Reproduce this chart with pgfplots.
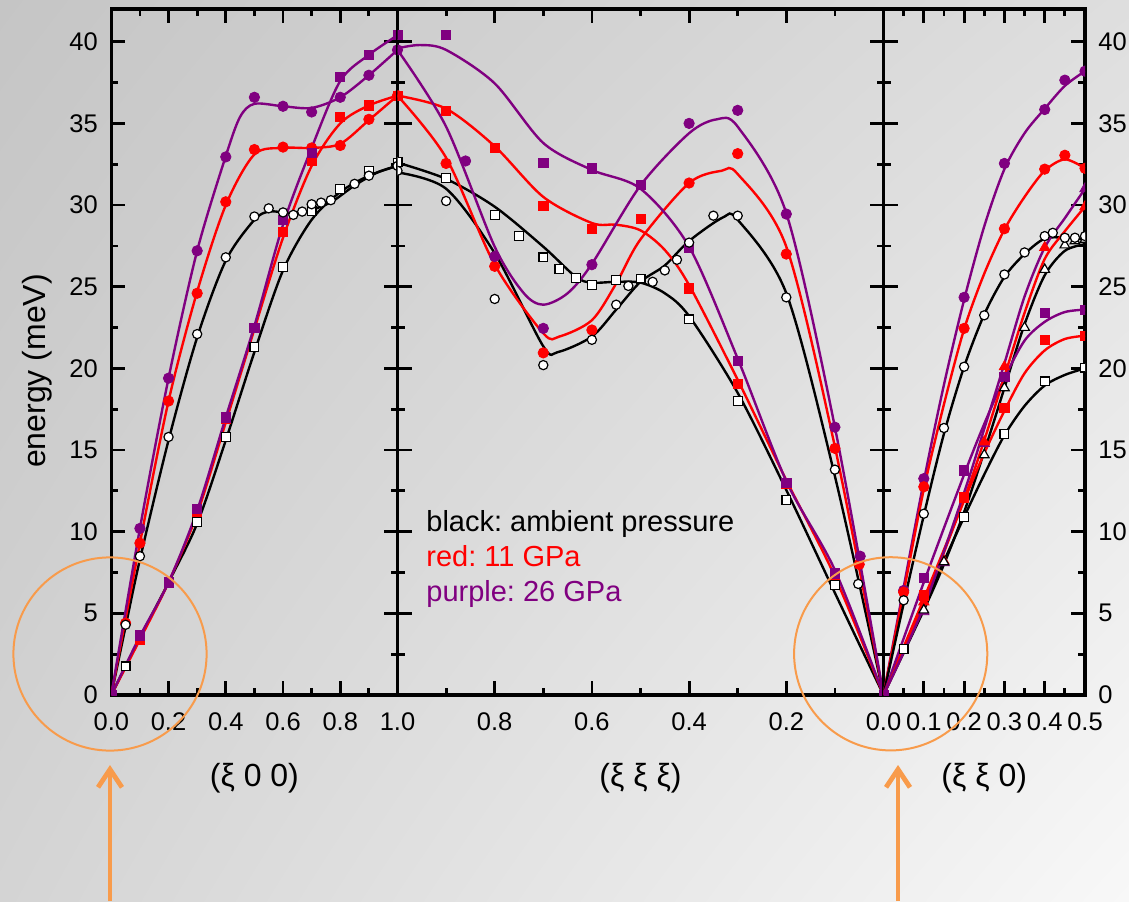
\documentclass[border=0pt]{standalone}
\usepackage{fontspec}
\setmainfont{Liberation Sans}
\usepackage{pgfplots}
\pgfplotsset{compat=1.18}
\usetikzlibrary{arrows.meta,shadings}
\definecolor{pur}{RGB}{128,0,128}
\definecolor{org}{RGB}{248,155,75}
\definecolor{bgUL}{RGB}{197,197,197}
\definecolor{bgUR}{RGB}{222,222,222}
\definecolor{bgLL}{RGB}{212,212,212}
\definecolor{bgLR}{RGB}{248,248,248}
\frenchspacing
\pgfplotsset{
 panel/.style={scale only axis, height=342.95pt, anchor=south west,
   ymin=0, ymax=42, ytick={0,5,...,40}, minor ytick={2.5,7.5,...,37.5},
   tick align=inside, major tick length=7pt, minor tick length=3.5pt,
   axis line style={line width=1.6pt},
   every tick/.style={black, line width=1.4pt},
   xtick pos=both, ytick pos=both,
   clip marker paths=true,
   /pgf/number format/assume math mode=true,
   tick label style={font=\fontsize{12.75}{14}\selectfont},
   xticklabel style={yshift=-5.5pt},
   label style={font=\fontsize{16}{18}\selectfont},
   xlabel style={at={(axis description cs:0.5,0)}, anchor=center, yshift=-41.5pt},
 },
 mbc/.style={only marks, mark=*, mark size=2.3pt, mark options={draw=black, fill=white, line width=0.6pt}},
 mbs/.style={only marks, mark=square*, mark size=2.2pt, mark options={draw=black, fill=white, line width=0.6pt}},
 mbt/.style={only marks, mark=triangle*, mark size=2.8pt, mark options={draw=black, fill=white, line width=0.6pt}},
 mrc/.style={only marks, mark=*, mark size=2.6pt, color=red},
 mrs/.style={only marks, mark=square*, mark size=2.3pt, color=red},
 mrt/.style={only marks, mark=triangle*, mark size=3pt, color=red},
 mpc/.style={only marks, mark=*, mark size=2.6pt, color=pur},
 mps/.style={only marks, mark=square*, mark size=2.3pt, color=pur},
 mpt/.style={only marks, mark=triangle*, mark size=3pt, color=pur},
 lb/.style={smooth, no marks, line width=1.2pt, black},
 lr/.style={smooth, no marks, line width=1.2pt, red},
 lp/.style={smooth, no marks, line width=1.2pt, pur},
}
\begin{document}
\begin{tikzpicture}
\useasboundingbox (0,0) rectangle (564.5pt,450.5pt);
\shade[upper left=bgUL, upper right=bgUR, lower left=bgLL, lower right=bgLR] (0,0) rectangle (564.5pt,450.5pt);

% ---------------- Panel 1: (xi 0 0)
\begin{axis}[panel, at={(55.65pt,103pt)}, width=143.1pt,
  xmin=0, xmax=1,
  xtick={0,0.2,0.4,0.6,0.8,1}, xticklabels={0.0,0.2,0.4,0.6,0.8,1.0},
  minor xtick={0.1,0.3,0.5,0.7,0.9},
  yticklabel style={xshift=-3.2pt},
  xlabel={(ξ 0 0)}]
\addplot[lb] coordinates {(0,0) (0.05,4.2) (0.1,8.3) (0.2,15.6) (0.3,21.9) (0.4,26.6) (0.5,29.1) (0.55,29.6) (0.6,29.55) (0.65,29.5) (0.7,29.7) (0.77,30.2) (0.85,31.2) (0.93,32.0) (1.0,32.4)};
\addplot[lb] coordinates {(0,0) (0.1,3.5) (0.2,6.9) (0.3,10.5) (0.4,15.6) (0.5,21.0) (0.6,26.0) (0.7,29.1) (0.8,30.8) (0.9,31.8) (1.0,32.4)};
\addplot[lr] coordinates {(0,0) (0.1,9.3) (0.2,18.0) (0.3,24.7) (0.4,30.0) (0.5,33.1) (0.6,33.5) (0.7,33.5) (0.8,33.75) (0.9,35.2) (1.0,36.7)};
\addplot[lr] coordinates {(0,0) (0.1,3.4) (0.2,6.9) (0.3,11.1) (0.4,16.7) (0.5,22.4) (0.6,28.0) (0.7,32.4) (0.8,35.0) (0.9,36.1) (1.0,36.7)};
\addplot[lp] coordinates {(0,0) (0.1,10.2) (0.2,19.4) (0.3,27.2) (0.4,33.0) (0.45,35.4) (0.5,36.2) (0.6,36.05) (0.7,35.95) (0.8,36.6) (0.9,37.95) (1.0,39.5)};
\addplot[lp] coordinates {(0,0) (0.1,3.6) (0.2,6.9) (0.3,11.3) (0.4,17.0) (0.5,22.6) (0.6,28.8) (0.7,33.5) (0.8,37.6) (0.9,39.2) (1.0,40.4)};
\addplot[mrc] coordinates {(0.05,4.4) (0.1,9.3) (0.2,18.0) (0.3,24.6) (0.4,30.2) (0.5,33.4) (0.6,33.55) (0.7,33.5) (0.8,33.65) (0.9,35.25) (1.0,36.7)};
\addplot[mrs] coordinates {(0.1,3.4) (0.2,6.85) (0.3,11.2) (0.4,16.9) (0.5,22.5) (0.6,28.35) (0.7,32.7) (0.8,35.4) (0.9,36.1) (1.0,36.7)};
\addplot[mpc] coordinates {(0.1,10.2) (0.2,19.4) (0.3,27.2) (0.4,32.95) (0.5,36.6) (0.6,36.05) (0.7,35.7) (0.8,36.6) (0.9,37.95) (1.0,39.5)};
\addplot[mps] coordinates {(0,0) (0.1,3.65) (0.2,6.9) (0.3,11.4) (0.4,17.0) (0.5,22.5) (0.6,29.1) (0.7,33.2) (0.8,37.85) (0.9,39.2) (1.0,40.4)};
\addplot[mbs] coordinates {(0.05,1.75) (0.3,10.6) (0.4,15.8) (0.5,21.3) (0.6,26.2) (0.7,29.65) (0.8,31.0) (0.9,32.1) (1.0,32.6)};
\addplot[mbc] coordinates {(0.05,4.3) (0.1,8.5) (0.2,15.8) (0.3,22.1) (0.4,26.8) (0.5,29.3) (0.55,29.8) (0.6,29.55) (0.636,29.4) (0.667,29.6) (0.7,30.05) (0.733,30.15) (0.767,30.3) (0.85,31.3) (0.9,31.8) (1.0,32.4)};
\end{axis}

% ---------------- Panel 2: (xi xi xi)
\begin{axis}[panel, at={(198.75pt,103pt)}, width=243pt,
  xmin=0, xmax=1, x dir=reverse,
  xtick={0.2,0.4,0.6,0.8}, xticklabels={0.2,0.4,0.6,0.8},
  minor xtick={0.1,0.3,0.5,0.7,0.9},
  yticklabels={},
  xlabel={(ξ ξ ξ)}]
\addplot[lb] coordinates {(1.0,32.6) (0.9,31.6) (0.8,29.9) (0.7,27.45) (0.633,25.6) (0.6,25.25) (0.55,25.3) (0.5,25.25) (0.45,24.6) (0.4,23.2) (0.3,18.5) (0.2,12.55) (0.1,6.25) (0,0)};
\addplot[lb] coordinates {(1.0,32.0) (0.9,31.0) (0.8,27.05) (0.7,21.35) (0.67,21.0) (0.6,21.95) (0.55,23.6) (0.5,25.3) (0.45,26.3) (0.4,27.8) (0.33,29.25) (0.3,29.1) (0.2,24.6) (0.1,13.4) (0,0)};
\addplot[lr] coordinates {(1.0,36.7) (0.9,35.9) (0.8,33.6) (0.7,30.5) (0.6,28.9) (0.55,28.8) (0.5,28.45) (0.45,27.25) (0.4,25.1) (0.3,19.3) (0.2,13.15) (0.1,7.25) (0,0)};
\addplot[lr] coordinates {(1.0,36.7) (0.9,32.9) (0.8,26.35) (0.7,22.15) (0.667,21.95) (0.6,22.95) (0.55,25.2) (0.5,27.9) (0.4,31.35) (0.333,32.1) (0.3,31.9) (0.2,27.45) (0.1,15.2) (0,0)};
\addplot[lp] coordinates {(1.0,39.6) (0.954,39.8) (0.9,39.5) (0.8,37.45) (0.7,33.8) (0.6,32.15) (0.5,31.0) (0.4,27.45) (0.3,20.6) (0.2,13.1) (0.1,7.65) (0,0)};
\addplot[lp] coordinates {(1.0,39.5) (0.9,34.8) (0.8,27.45) (0.74,24.6) (0.7,23.9) (0.65,24.6) (0.6,26.4) (0.5,31.2) (0.4,34.4) (0.343,35.25) (0.3,34.8) (0.2,29.5) (0.1,16.4) (0,0)};
\addplot[mrc] coordinates {(1.0,36.7) (0.9,32.55) (0.8,26.25) (0.7,20.95) (0.6,22.35) (0.4,31.35) (0.3,33.15) (0.2,27.0) (0.1,15.1) (0.05,8.0)};
\addplot[mrs] coordinates {(1.0,36.7) (0.9,35.75) (0.8,33.5) (0.7,29.95) (0.6,28.55) (0.5,29.15) (0.4,24.9) (0.3,19.05) (0.2,12.95) (0.1,7.0)};
\addplot[mpc] coordinates {(1.0,39.5) (0.86,32.7) (0.8,26.85) (0.7,22.45) (0.6,26.35) (0.4,35.0) (0.3,35.8) (0.2,29.45) (0.1,16.4) (0.048,8.5)};
\addplot[mps] coordinates {(1.0,40.4) (0.9,40.4) (0.7,32.6) (0.6,32.25) (0.5,31.25) (0.4,27.4) (0.3,20.45) (0.2,13.0) (0.1,7.45) (0,0)};
\addplot[mbs] coordinates {(1.0,32.65) (0.9,31.65) (0.8,29.4) (0.75,28.1) (0.7,26.8) (0.667,26.1) (0.633,25.55) (0.6,25.1) (0.55,25.4) (0.5,25.5) (0.4,23.0) (0.3,18.0) (0.2,11.95) (0.1,6.75)};
\addplot[mbc] coordinates {(1.0,32.1) (0.9,30.25) (0.8,24.25) (0.7,20.2) (0.6,21.75) (0.55,23.9) (0.525,25.05) (0.475,25.3) (0.45,26.0) (0.425,26.65) (0.4,27.7) (0.35,29.35) (0.3,29.35) (0.2,24.35) (0.1,13.8) (0.052,6.8)};
\end{axis}

% ---------------- Panel 3: (xi xi 0)
\begin{axis}[panel, at={(441.75pt,103pt)}, width=100.75pt,
  xmin=0, xmax=0.5,
  xtick={0,0.1,0.2,0.3,0.4,0.5}, xticklabels={0.0,0.1,0.2,0.3,0.4,0.5},
  minor xtick={0.05,0.15,0.25,0.35,0.45},
  yticklabel pos=right, ytick pos=both,
  yticklabel style={xshift=3.2pt},
  xlabel={(ξ ξ 0)}]
\addplot[lp] coordinates {(0,0) (0.05,6.6) (0.1,13.1) (0.15,19.0) (0.2,24.2) (0.25,28.7) (0.3,32.2) (0.35,34.4) (0.4,35.9) (0.45,37.3) (0.5,38.2)};
\addplot[lr] coordinates {(0,0) (0.05,6.3) (0.1,12.6) (0.15,17.8) (0.2,22.4) (0.25,25.8) (0.3,28.5) (0.35,30.5) (0.4,32.1) (0.45,32.8) (0.5,32.25)};
\addplot[lb] coordinates {(0,0) (0.05,5.6) (0.1,11.0) (0.15,16.0) (0.2,20.1) (0.25,23.3) (0.3,25.6) (0.35,27.0) (0.4,27.95) (0.45,28.0) (0.5,27.9)};
\addplot[lb] coordinates {(0,0) (0.1,5.2) (0.15,8.0) (0.2,11.2) (0.25,14.9) (0.3,18.8) (0.35,22.7) (0.4,25.7) (0.45,27.2) (0.5,27.6)};
\addplot[lb] coordinates {(0,0) (0.05,2.8) (0.1,5.5) (0.15,8.2) (0.2,10.9) (0.25,13.5) (0.3,15.9) (0.35,17.7) (0.4,18.95) (0.45,19.6) (0.5,20.0)};
\addplot[lr] coordinates {(0,0) (0.1,5.9) (0.2,11.9) (0.25,14.8) (0.3,17.4) (0.35,19.7) (0.4,21.1) (0.45,21.8) (0.5,22.0)};
\addplot[lp] coordinates {(0,0) (0.1,6.9) (0.2,13.5) (0.25,16.6) (0.3,19.4) (0.35,21.7) (0.4,22.85) (0.45,23.45) (0.5,23.6)};
\addplot[lr] coordinates {(0,0) (0.1,5.6) (0.2,12.0) (0.25,15.6) (0.3,19.5) (0.35,23.4) (0.4,26.7) (0.45,28.4) (0.5,29.9)};
\addplot[lp] coordinates {(0,0) (0.1,5.4) (0.2,12.4) (0.25,16.3) (0.3,20.3) (0.35,24.4) (0.4,27.4) (0.45,29.2) (0.5,31.0)};
\addplot[mpc] coordinates {(0.05,6.4) (0.1,13.25) (0.2,24.35) (0.3,32.55) (0.4,35.85) (0.45,37.65) (0.5,38.2)};
\addplot[mrc] coordinates {(0.05,6.3) (0.1,12.75) (0.2,22.45) (0.3,28.55) (0.4,32.2) (0.45,33.05) (0.5,32.25)};
\addplot[mps] coordinates {(0,0) (0.1,7.15) (0.2,13.75) (0.3,19.5) (0.4,23.4) (0.5,23.6)};
\addplot[mrs] coordinates {(0.1,6.1) (0.2,12.1) (0.3,17.6) (0.4,21.75) (0.5,22.0)};
\addplot[mpt] coordinates {(0.1,5.1) (0.15,8.1) (0.25,15.4) (0.5,31.0)};
\addplot[mrt] coordinates {(0.1,5.7) (0.15,8.2) (0.25,15.5) (0.3,20.1) (0.4,27.4) (0.5,29.9)};
\addplot[mbs] coordinates {(0.05,2.8) (0.2,10.9) (0.3,16.0) (0.4,19.2) (0.5,20.05)};
\addplot[mbt] coordinates {(0.1,5.2) (0.15,8.15) (0.25,14.7) (0.3,18.8) (0.35,22.5) (0.4,26.05) (0.45,27.55) (0.475,27.8) (0.5,27.9)};
\addplot[mbc] coordinates {(0.05,5.8) (0.1,11.1) (0.15,16.35) (0.2,20.1) (0.25,23.25) (0.3,25.75) (0.35,27.1) (0.4,28.1) (0.42,28.3) (0.45,28.0) (0.475,28.0) (0.5,28.1)};
\end{axis}

% labels and annotations
\node[rotate=90, inner sep=0pt, font=\fontsize{16}{18}\selectfont] at (18.5pt,265pt) {energy (meV)};
\node[anchor=base west, inner sep=0pt, font=\fontsize{14.5}{16}\selectfont, black] at (213pt,184.75pt) {black: ambient pressure};
\node[anchor=base west, inner sep=0pt, font=\fontsize{14.5}{16}\selectfont, red] at (213pt,167.25pt) {red: 11 GPa};
\node[anchor=base west, inner sep=0pt, font=\fontsize{14.5}{16}\selectfont, pur] at (213pt,149.75pt) {purple: 26 GPa};
\draw[org, line width=1pt] (55pt,123.5pt) circle [radius=48.3pt];
\draw[org, line width=1pt] (445.35pt,123.6pt) circle [radius=48.3pt];
\draw[org, line width=2.4pt, -{Straight Barb[length=9pt,width=12pt]}] (55pt,0pt) -- (55pt,68pt);
\draw[org, line width=2.4pt, -{Straight Barb[length=9pt,width=12pt]}] (449pt,0pt) -- (449pt,68pt);
\end{tikzpicture}
\end{document}
